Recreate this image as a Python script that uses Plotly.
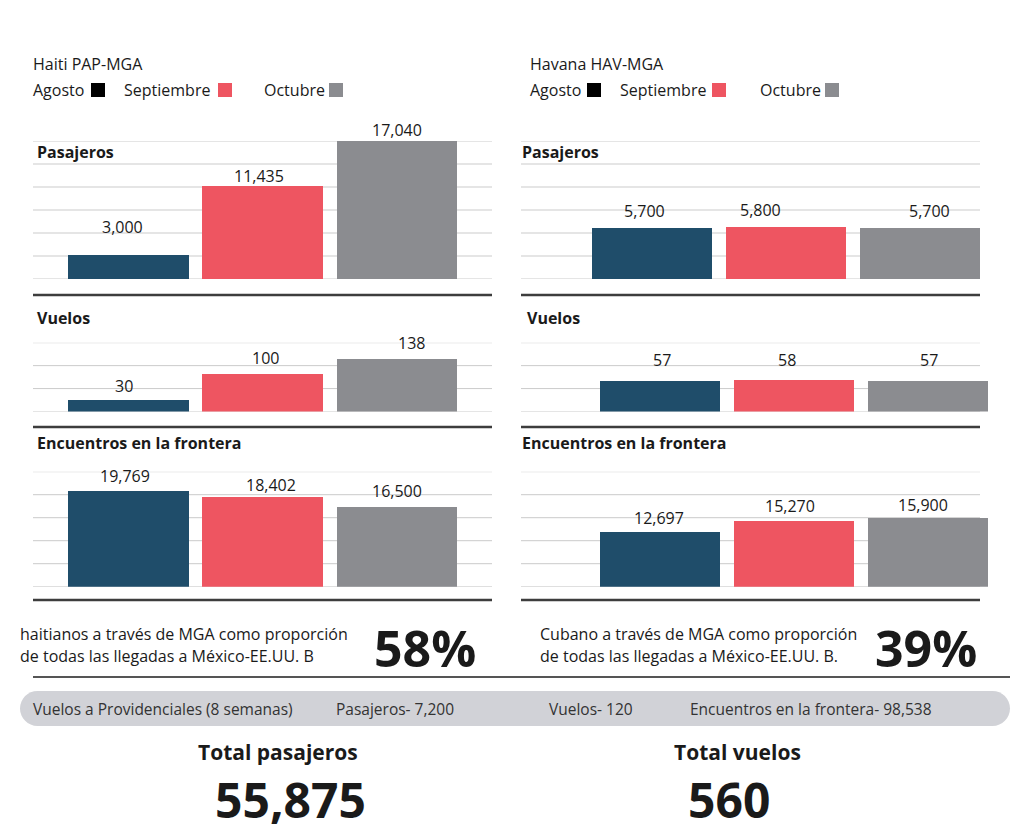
import plotly.graph_objects as go

W, H = 1024, 835

# ---------------- data ----------------
months = ["Agosto", "Septiembre", "Octubre"]
haiti_pasajeros = [3000, 11435, 17040]
haiti_vuelos = [30, 100, 138]
haiti_encuentros = [19769, 18402, 16500]
havana_pasajeros = [5700, 5800, 5700]
havana_vuelos = [57, 58, 57]
havana_encuentros = [12697, 15270, 15900]

haiti_share = "58%"
cuba_share = "39%"
prov_pasajeros = 7200
prov_vuelos = 120
prov_encuentros = 98538
total_pasajeros = 55875
total_vuelos = 560

# ---------------- styles ----------------
bar_colors = ["#1f4d6a", "#ee5561", "#8b8c90"]
legend_colors = ["#000000", "#ee5561", "#8b8c90"]
FONT = "Open Sans"
TXT = "#1a1a1a"
GRID = "#cbcbcb"
RULE = "#3d3d3d"


def fx(p):
    return p / W


def fy(p):
    return 1 - p / H


# panel geometry (pixels)
panels = [
    dict(vals=haiti_pasajeros, dx=(33, 492), gx=492, c0=128.5, step=134.25, y=(141, 279), ymax=17040, n=6,
         shifts=[(-6, 28), (-4, 10), (0, 11)]),
    dict(vals=haiti_vuelos, dx=(33, 492), gx=492, c0=128.5, step=134.25, y=(342.7, 411.5), ymax=180, n=3,
         shifts=[(-5, 14), (3, 15), (14, 16)]),
    dict(vals=haiti_encuentros, dx=(33, 492), gx=492, c0=128.5, step=134.25, y=(471.7, 586.7), ymax=23600, n=5,
         shifts=[(-4, 14), (8, 12), (0, 15)]),
    dict(vals=havana_pasajeros, dx=(521, 980), gx=980, c0=652, step=134, y=(141, 279), ymax=15424, n=6,
         shifts=[(-8, 17), (-26, 17), (9, 17)]),
    dict(vals=havana_vuelos, dx=(521, 988), gx=980, c0=660, step=134, y=(342.7, 411.5), ymax=126, n=3,
         shifts=[(2, 20), (-7, 20), (1, 20)]),
    dict(vals=havana_encuentros, dx=(521, 988), gx=980, c0=660, step=134, y=(471.7, 586.7), ymax=26500, n=5,
         shifts=[(-1, 14), (-4, 14), (-5, 13)]),
]

fig = go.Figure()
shapes = []
annotations = []
layout_axes = {}

for i, p in enumerate(panels, start=1):
    xa = f"x{i}" if i > 1 else "x"
    ya = f"y{i}" if i > 1 else "y"
    xk = f"xaxis{i}" if i > 1 else "xaxis"
    yk = f"yaxis{i}" if i > 1 else "yaxis"
    x0, x1 = p["dx"]
    lo = (x0 - p["c0"]) / p["step"]
    hi = (x1 - p["c0"]) / p["step"]
    fig.add_trace(go.Bar(
        x=months, y=p["vals"], xaxis=xa, yaxis=ya,
        marker=dict(color=bar_colors, line=dict(width=0)),
        width=0.9, showlegend=False, hoverinfo="skip",
    ))
    layout_axes[xk] = dict(domain=[fx(x0), fx(x1)], range=[lo, hi], showgrid=False,
                           showticklabels=False, zeroline=False, showline=False, ticks="",
                           anchor=ya, fixedrange=True)
    layout_axes[yk] = dict(domain=[fy(p["y"][1]), fy(p["y"][0])], range=[0, p["ymax"]],
                           showgrid=False, showticklabels=False, zeroline=False, showline=False,
                           ticks="", anchor=xa, fixedrange=True)
    # gridlines
    frac = (p["gx"] - x0) / (x1 - x0)
    for k in range(p["n"] + 1):
        v = p["ymax"] * k / p["n"]
        shapes.append(dict(type="line", xref=f"{xa} domain", yref=ya, x0=0, x1=frac, y0=v, y1=v,
                           line=dict(color=GRID, width=1), layer="below"))
    # value labels
    for m, v, (sx, sy) in zip(months, p["vals"], p["shifts"]):
        annotations.append(dict(x=m, y=v, xref=xa, yref=ya, text=f"{v:,}", showarrow=False,
                                xanchor="center", yanchor="middle", xshift=sx, yshift=sy,
                                font=dict(family=FONT, size=16, color=TXT)))

# thick separators under each section
for (a, b) in [(33, 492), (521, 980)]:
    for yy in [295, 427, 600]:
        shapes.append(dict(type="line", xref="paper", yref="paper", x0=fx(a), x1=fx(b),
                           y0=fy(yy), y1=fy(yy), line=dict(color=RULE, width=2.5)))
shapes.append(dict(type="line", xref="paper", yref="paper", x0=fx(33), x1=fx(1010),
                   y0=fy(677), y1=fy(677), line=dict(color="#555555", width=2)))


def txt(x, y, s, size=15, bold=False, anchor="left", color=TXT, family=FONT):
    annotations.append(dict(x=fx(x), y=fy(y), xref="paper", yref="paper",
                            text=f"<b>{s}</b>" if bold else s, showarrow=False,
                            xanchor=anchor, yanchor="middle",
                            xshift=-2 if anchor == "left" else 0,
                            font=dict(family=family, size=size, color=color)))


# section titles
for bx in (37, 522):
    txt(bx, 152, "Pasajeros", 16, True)
    txt(bx + (0 if bx == 37 else 5), 318, "Vuelos", 16, True)
    txt(bx, 443, "Encuentros en la frontera", 16, True)

# headers and legends
txt(33, 64, "Haiti PAP-MGA", 16)
txt(530, 64, "Havana HAV-MGA", 16)
legend_layout = [
    [(33, 91), (124, 218), (264, 329)],
    [(530, 587), (620, 712), (760, 825)],
]
for row in legend_layout:
    for m, (tx, sq), c in zip(months, row, legend_colors):
        txt(tx, 90, m, 16)
        shapes.append(dict(type="rect", xref="paper", yref="paper", x0=fx(sq), x1=fx(sq + 14),
                           y0=fy(97), y1=fy(83), fillcolor=c, line=dict(width=0)))

# shares
txt(20, 634, "haitianos a través de MGA como proporción", 16)
txt(20, 656, "de todas las llegadas a México-EE.UU. B", 16)
txt(425, 648, haiti_share, 50, True, "center")
txt(540, 634, "Cubano a través de MGA como proporción", 16)
txt(540, 656, "de todas las llegadas a México-EE.UU. B.", 16)
txt(926, 648, cuba_share, 50, True, "center")

# grey pill
x0, x1, y0, y1 = 20, 1010, 691, 726
r = (y1 - y0) / 2
ym = (y0 + y1) / 2
k = 0.5523 * r


def P(x, y):
    return f"{fx(x):.6f},{fy(y):.6f}"


path = (f"M {P(x0 + r, y0)} L {P(x1 - r, y0)} "
        f"C {P(x1 - r + k, y0)} {P(x1, ym - k)} {P(x1, ym)} "
        f"C {P(x1, ym + k)} {P(x1 - r + k, y1)} {P(x1 - r, y1)} "
        f"L {P(x0 + r, y1)} "
        f"C {P(x0 + r - k, y1)} {P(x0, ym + k)} {P(x0, ym)} "
        f"C {P(x0, ym - k)} {P(x0 + r - k, y0)} {P(x0 + r, y0)} Z")
shapes.append(dict(type="path", xref="paper", yref="paper", path=path,
                   fillcolor="#d1d2d7", line=dict(width=0), layer="below"))

txt(33, 709, "Vuelos a Providenciales (8 semanas)", 15.5, color="#333333")
txt(336, 709, f"Pasajeros- {prov_pasajeros:,}", 15.5, color="#333333")
txt(549, 709, f"Vuelos- {prov_vuelos:,}", 15.5, color="#333333")
txt(690, 709, f"Encuentros en la frontera- {prov_encuentros:,}", 15.5, color="#333333")

# totals
txt(278, 752, "Total pasajeros", 21, True, "center")
txt(290, 799, f"{total_pasajeros:,}", 48, True, "center")
txt(737, 752, "Total vuelos", 21, True, "center")
txt(729, 799, f"{total_vuelos:,}", 48, True, "center")

fig.update_layout(
    width=W, height=H, margin=dict(l=0, r=0, t=0, b=0),
    paper_bgcolor="white", plot_bgcolor="rgba(0,0,0,0)",
    shapes=shapes, annotations=annotations, bargap=0, showlegend=False,
    **layout_axes,
)

fig.write_html("out.html", config={"displayModeBar": False})
